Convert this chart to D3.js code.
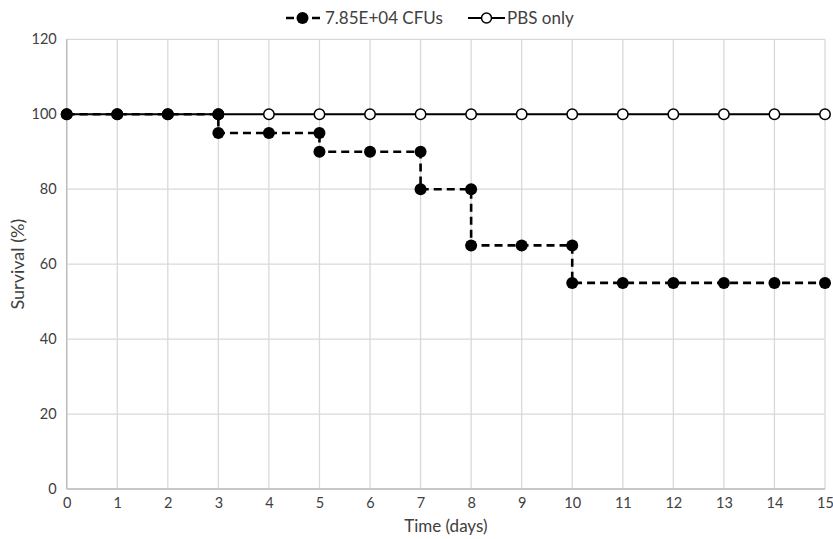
<!DOCTYPE html>
<html><head><meta charset="utf-8">
<script src="https://cdn.jsdelivr.net/npm/d3@7"></script>
<style>body{margin:0;background:#fff}svg{display:block}text{font-family:Lato,"Open Sans",sans-serif;fill:#404040}</style>
</head><body><svg id="c" width="833" height="539"></svg>
<script>
const days = [0,1,2,3,4,5,6,7,8,9,10,11,12,13,14,15];
const cfuSurvival = [100,100,100,95,95,90,90,80,65,65,55,55,55,55,55,55];
const pbsSurvival = [100,100,100,100,100,100,100,100,100,100,100,100,100,100,100,100];
const yTicks = [0,20,40,60,80,100,120];
const seriesNames = ["7.85E+04 CFUs","PBS only"];

const svg = d3.select("#c");
const m = {l:66.7, r:8, t:39.3, b:50};
const W = 833, H = 539;
const x = d3.scaleLinear().domain([0,15]).range([m.l, W-m.r]);
const y = d3.scaleLinear().domain([0,120]).range([H-m.b, m.t]);

// grid
const g = svg.append("g");
g.selectAll(".vg").data(days).join("line")
  .attr("x1",d=>x(d)).attr("x2",d=>x(d)).attr("y1",y(0)).attr("y2",y(120))
  .attr("stroke","#d9d9d9").attr("stroke-width",1.3);
g.selectAll(".hg").data(yTicks).join("line")
  .attr("x1",x(0)).attr("x2",x(15)).attr("y1",d=>y(d)).attr("y2",d=>y(d))
  .attr("stroke","#d9d9d9").attr("stroke-width",1.3);
g.append("line").attr("x1",x(0)).attr("x2",x(15)).attr("y1",y(0)).attr("y2",y(0)).attr("stroke","#bfbfbf").attr("stroke-width",1.5);
g.append("line").attr("x1",x(0)).attr("x2",x(0)).attr("y1",y(0)).attr("y2",y(120)).attr("stroke","#bfbfbf").attr("stroke-width",1.5);

// tick labels
const ya = svg.append("g").attr("transform",`translate(${x(0)},0)`)
  .call(d3.axisLeft(y).tickValues(yTicks).tickSize(0).tickPadding(10));
ya.select(".domain").remove();
ya.selectAll("text").attr("font-size",14.5).attr("font-family","Lato,sans-serif").attr("fill","#404040");
const xa = svg.append("g").attr("transform",`translate(0,${y(0)})`)
  .call(d3.axisBottom(x).tickValues(days).tickFormat(d3.format("d")).tickSize(0).tickPadding(9));
xa.select(".domain").remove();
xa.selectAll("text").attr("font-size",14.5).attr("font-family","Lato,sans-serif").attr("fill","#404040");

// axis titles
svg.append("text").attr("x",(x(0)+x(15))/2).attr("y",532).attr("text-anchor","middle").attr("font-size",17).text("Time (days)");
svg.append("text").attr("transform",`translate(24,${(y(0)+y(120))/2}) rotate(-90)`).attr("text-anchor","middle").attr("font-size",18).text("Survival (%)");

// PBS series
const pbsPts = days.map((d,i)=>[d,pbsSurvival[i]]);
svg.append("path").datum(pbsPts).attr("d",d3.line().x(d=>x(d[0])).y(d=>y(d[1])))
  .attr("fill","none").attr("stroke","#000").attr("stroke-width",1.8);
svg.selectAll(".pbs").data(pbsPts).join("circle")
  .attr("cx",d=>x(d[0])).attr("cy",d=>y(d[1])).attr("r",5.2)
  .attr("fill","#fff").attr("stroke","#000").attr("stroke-width",1.5);

// CFU step series
const cfuPts = [];
days.forEach((d,i)=>{
  if(i>0 && cfuSurvival[i]!==cfuSurvival[i-1]) cfuPts.push([d,cfuSurvival[i-1]]);
  cfuPts.push([d,cfuSurvival[i]]);
});
svg.append("path").datum(cfuPts).attr("d",d3.line().x(d=>x(d[0])).y(d=>y(d[1])))
  .attr("fill","none").attr("stroke","#000").attr("stroke-width",2.6).attr("stroke-dasharray","8,5");
svg.selectAll(".cfu").data(cfuPts).join("circle")
  .attr("cx",d=>x(d[0])).attr("cy",d=>y(d[1])).attr("r",6).attr("fill","#000");

// legend
const lg = svg.append("g");
lg.append("line").attr("x1",285).attr("x2",320).attr("y1",18).attr("y2",18).attr("stroke","#000").attr("stroke-width",2.6).attr("stroke-dasharray","8,5").attr("stroke-dashoffset",-1);
lg.append("circle").attr("cx",302.5).attr("cy",18).attr("r",6).attr("fill","#000");
lg.append("text").attr("x",325).attr("y",24).attr("font-size",17).text(seriesNames[0]);
lg.append("line").attr("x1",468).attr("x2",505).attr("y1",18).attr("y2",18).attr("stroke","#000").attr("stroke-width",1.8);
lg.append("circle").attr("cx",486.5).attr("cy",18).attr("r",5).attr("fill","#fff").attr("stroke","#000").attr("stroke-width",1.5);
lg.append("text").attr("x",507).attr("y",24).attr("font-size",17).text(seriesNames[1]);
</script></body></html>
